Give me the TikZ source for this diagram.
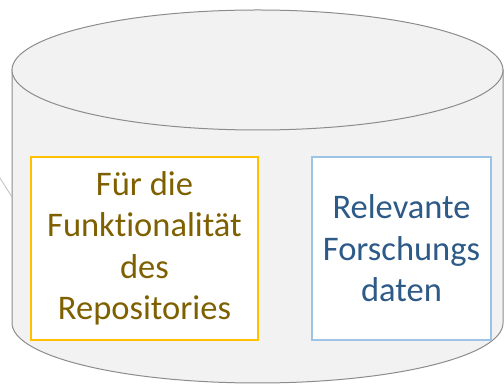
\documentclass[tikz,border=0pt]{standalone}
\usepackage{fontspec}
\setmainfont[Ligatures=NoCommon]{Carlito}
\definecolor{cylfill}{HTML}{F2F2F2}
\definecolor{cylline}{HTML}{8C8C8C}
\definecolor{conline}{HTML}{BFBFBF}
\definecolor{goldline}{HTML}{FFC000}
\definecolor{goldtext}{HTML}{7F6000}
\definecolor{blueline}{HTML}{9DC3E6}
\definecolor{bluetext}{HTML}{2E5A87}
\tikzset{
  cyl/.style={fill=cylfill, draw=cylline, line width=1pt},
  infobox/.style={fill=white, line width=1.5pt, align=center, inner sep=0pt,
    font=\fontsize{34.5}{41.5}\selectfont},
  goldbox/.style={infobox, draw=goldline, text=goldtext, minimum width=227pt, minimum height=183pt},
  bluebox/.style={infobox, draw=blueline, text=bluetext, minimum width=179pt, minimum height=183pt},
  conn/.style={draw=conline, line width=0.8pt}
}
\begin{document}
\begin{tikzpicture}[x=1pt,y=1pt]
\useasboundingbox (0,0) rectangle (504,385);
% cylinder body
\path[cyl] (12,315) -- (12,62) arc[start angle=180, end angle=360, x radius=245.5, y radius=60] -- (503,315) -- cycle;
\draw[cyl] (257.5,315) ellipse[x radius=245.5, y radius=60];
% connector at left
\coordinate (offL) at (-2,210);
\coordinate (cylL) at (12,188);
\draw[conn] (offL) -- (cylL);
% boxes
\node[goldbox] (func) at (144.5,136.5) {Für die\\Funktionalität\\des\\Repositories};
\node[bluebox] (data) at (401.5,136.5) {Relevante\\Forschungs\\daten};
\end{tikzpicture}
\end{document}
